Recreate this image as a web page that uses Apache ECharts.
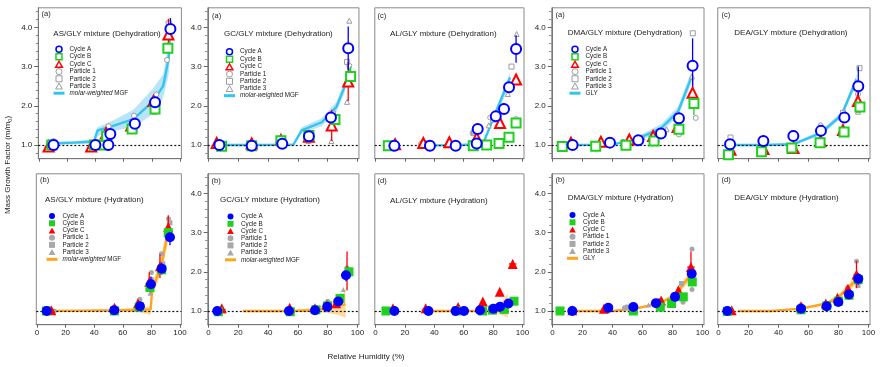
<!DOCTYPE html>
<html><head><meta charset="utf-8">
<script src="https://cdn.jsdelivr.net/npm/echarts@6/dist/echarts.min.js"></script>
<style>html,body{margin:0;padding:0;background:#fff}#c{width:896px;height:367px}</style>
</head><body><div id="c"></div>
<script>
// ---------------- tick labels / reference ----------------
const RH_TICKS = [0, 20, 40, 60, 80, 100];
const MGF_TICKS = [1, 2, 3, 4];
const MGF_MINOR = [0.8, 1.2, 1.4, 1.6, 1.8, 2.2, 2.4, 2.6, 2.8, 3.2, 3.4, 3.6, 3.8, 4.2, 4.4];
const REF_MGF = 1.0;
const MGF_NAME = 'molar-weighted MGF';
const GLY_NAME = 'GLY';

// ---------------- data: [RH, MGF, yErr, xErr] for cycles, [RH, MGF] for particles ----------------
// (1) AS/GLY dehydration
const AS_DEH_A = [[10.3,1.00,0.03,1.5],[40.0,1.00,0.03,1.5],[49.2,1.00,0.03,1.0],[50.6,1.28,0.12,1.5],[68.0,1.54,0.08,2.0],[82.3,2.09,0.12,1.5],[93.2,3.96,0.28,1.5]];
const AS_DEH_B = [[9.1,1.00,0.03,1.5],[39.3,1.00,0.03,1.0],[46.3,1.00,0.03,1.0],[48.0,1.22,0.10,1.0],[66.0,1.41,0.06,1.5],[82.3,1.92,0.10,1.5],[91.4,3.47,0.15,1.5]];
const AS_DEH_C = [[6.8,0.96,0.05,1.0],[37.0,0.96,0.04,1.0],[47.5,1.30,0.15,1.0],[65.4,1.50,0.08,1.0],[81.2,2.12,0.12,1.0],[91.8,3.82,0.40,1.5]];
const AS_DEH_P1 = [[10.3,1.10],[49.4,1.48],[67.4,1.75],[83.3,2.29],[90.8,3.17]];
const AS_DEH_P2 = [[8.0,1.00],[40.0,0.97],[47.5,1.00],[66.0,1.45],[82.0,1.85],[92.0,4.10]];
const AS_DEH_P3 = [[7.0,1.08],[38.0,0.98],[49.0,1.20],[67.0,1.62],[82.0,2.15],[92.0,3.90]];
const AS_DEH_M_RH = [10,25,39,41.5,51,67,81,88,92,93];
const AS_DEH_M_MEAN = [1.04,1.06,1.09,1.37,1.47,1.66,2.12,2.50,3.20,3.95];
const AS_DEH_M_LO = [1.00,1.02,1.04,1.22,1.35,1.45,1.80,2.20,2.80,3.50];
const AS_DEH_M_HI = [1.08,1.10,1.14,1.45,1.60,1.90,2.45,2.80,3.60,4.20];

// (2) GC/GLY dehydration
const GC_DEH_A = [[7.3,1.00,0.03,1.5],[29.0,0.98,0.02,1.5],[49.5,1.03,0.03,1.5],[67.4,1.22,0.05,1.5],[82.2,1.70,0.10,1.5],[93.8,3.47,0.55,1.5]];
const GC_DEH_B = [[8.8,0.97,0.03,1.0],[29.0,0.98,0.02,1.0],[48.6,1.11,0.03,1.0],[67.4,1.24,0.04,1.0],[84.9,1.65,0.10,1.5],[95.4,2.75,0.25,1.5]];
const GC_DEH_C = [[5.5,1.05,0.06,1.0],[29.0,1.04,0.07,1.0],[48.6,1.13,0.04,1.0],[67.4,1.21,0.05,1.0],[82.7,1.50,0.40,1.5],[93.8,2.62,0.50,1.5]];
const GC_DEH_P1 = [[6.0,1.02],[29.0,1.02],[48.0,1.10],[67.0,1.20],[83.0,1.75],[94.5,3.02]];
const GC_DEH_P2 = [[8.0,0.97],[30.0,1.00],[49.0,1.08],[67.5,1.25],[83.5,1.80],[93.0,3.12]];
const GC_DEH_P3 = [[7.0,1.05],[30.0,1.00],[49.0,1.12],[67.0,1.10],[82.5,1.10],[93.0,2.10],[94.5,4.17]];
const GC_DEH_M_RH = [8,30,57,62.5,76,86,91,95];
const GC_DEH_M_MEAN = [1.00,1.00,1.01,1.37,1.58,1.98,2.45,3.00];
const GC_DEH_M_LO = [0.98,0.98,0.98,1.30,1.48,1.85,2.30,2.85];
const GC_DEH_M_HI = [1.02,1.02,1.04,1.45,1.68,2.10,2.60,3.15];

// (3) AL/GLY dehydration
const AL_DEH_A = [[12.8,0.98,0.02,2.0],[37.0,0.98,0.02,1.5],[54.5,0.98,0.02,1.5],[68.8,1.04,0.03,1.5],[69.5,1.41,0.05,2.0],[81.8,1.73,0.04,1.0],[87.4,1.92,0.04,1.0],[90.8,2.47,0.06,1.0],[95.6,3.45,0.35,0.5]];
const AL_DEH_B = [[8.7,0.98,0.02,1.0],[66.5,0.98,0.02,1.0],[75.6,1.00,0.02,1.0],[84.0,1.04,0.02,1.0],[90.8,1.20,0.02,1.0],[95.6,1.56,0.03,1.0]];
const AL_DEH_C = [[13.3,1.02,0.03,1.0],[32.5,1.05,0.03,1.0],[50.2,1.07,0.03,1.0],[68.8,1.18,0.04,1.0],[84.7,1.56,0.04,1.0],[95.6,2.67,0.05,1.0]];
const AL_DEH_P1 = [[31.0,1.03],[66.0,1.30],[78.0,1.70],[87.0,2.00],[95.5,1.66]];
const AL_DEH_P2 = [[33.0,1.05],[67.0,1.32],[80.0,1.65],[92.5,3.00]];
const AL_DEH_P3 = [[67.0,1.35],[77.0,1.50],[90.0,2.30],[96.0,3.83]];
const AL_DEH_M_RH = [33,50,73,82,91.5];
const AL_DEH_M_MEAN = [0.99,0.99,1.02,1.85,2.72];
const AL_DEH_M_LO = [0.97,0.97,0.99,1.75,2.55];
const AL_DEH_M_HI = [1.01,1.01,1.06,1.95,2.85];

// (4) DMA/GLY dehydration
const DMA_DEH_A = [[13.4,1.00,0.02,1.5],[38.3,1.06,0.02,1.5],[57.2,1.12,0.04,1.5],[72.3,1.29,0.04,1.5],[84.3,1.68,0.10,1.5],[93.4,3.02,0.70,1.5]];
const DMA_DEH_B = [[6.5,0.96,0.02,1.5],[28.8,0.97,0.02,1.5],[49.0,0.99,0.03,1.5],[67.7,1.10,0.04,1.5],[84.3,1.40,0.05,1.5],[94.3,2.06,0.30,1.5]];
const DMA_DEH_C = [[12.3,1.06,0.05,1.0],[32.3,1.08,0.06,1.0],[51.2,1.14,0.05,1.0],[67.1,1.23,0.04,1.0],[83.4,1.46,0.10,1.0],[93.4,2.33,0.35,1.0]];
const DMA_DEH_P1 = [[47.0,1.08],[57.5,1.10],[84.3,1.27],[83.5,1.78],[95.5,1.69]];
const DMA_DEH_P2 = [[57.0,1.12],[71.0,1.30],[93.5,3.85]];
const DMA_DEH_P3 = [[60.0,1.20],[76.0,1.40],[85.0,1.55],[93.0,2.75]];
const DMA_DEH_M_RH = [13,40,57.5,72.7,83.8,92.3];
const DMA_DEH_M_MEAN = [1.00,1.01,1.17,1.44,1.86,2.70];
const DMA_DEH_M_LO = [0.99,0.99,1.11,1.34,1.74,2.55];
const DMA_DEH_M_HI = [1.01,1.03,1.23,1.54,1.98,2.85];

// (5) DEA/GLY dehydration
const DEA_DEH_A = [[7.7,1.02,0.05,1.5],[29.9,1.10,0.04,1.5],[49.9,1.23,0.07,1.5],[68.3,1.36,0.05,1.5],[83.9,1.70,0.07,1.5],[93.2,2.50,0.50,1.5]];
const DEA_DEH_B = [[6.6,0.75,0.03,1.0],[28.7,0.83,0.04,1.0],[48.8,0.92,0.08,1.0],[67.7,1.06,0.07,1.0],[83.7,1.33,0.05,1.0],[94.3,1.97,0.15,1.0]];
const DEA_DEH_C = [[8.0,0.88,0.08,1.5],[30.0,0.90,0.05,1.5],[50.0,0.92,0.10,1.5],[68.0,1.10,0.08,1.5],[83.0,1.38,0.06,1.5],[93.0,2.12,0.30,1.5]];
const DEA_DEH_P1 = [[31.0,1.04],[68.0,1.50],[93.0,2.30]];
const DEA_DEH_P2 = [[8.0,1.19],[30.0,1.10],[50.0,1.30],[83.0,1.82],[94.0,2.96]];
const DEA_DEH_P3 = [[50.0,0.90],[68.0,1.20],[93.0,1.85]];
const DEA_DEH_M_RH = [8,30,50,68,82,92];
const DEA_DEH_M_MEAN = [1.00,1.00,1.02,1.30,1.76,2.67];
const DEA_DEH_M_LO = [0.99,0.99,0.99,1.24,1.68,2.55];
const DEA_DEH_M_HI = [1.01,1.01,1.05,1.36,1.84,2.79];

// (6) AS/GLY hydration
const AS_HYD_A = [[6.8,1.00,0.02,3.0],[54.0,1.02,0.03,2.0],[72.0,1.12,0.05,1.5],[79.7,1.68,0.20,1.5],[87.2,2.08,0.15,2.0],[93.0,2.88,0.20,2.5]];
const AS_HYD_B = [[6.5,1.00,0.02,2.0],[54.2,1.00,0.02,2.0],[71.5,1.10,0.03,1.5],[79.0,1.60,0.10,1.5],[87.2,2.05,0.10,1.5],[91.8,3.00,0.15,3.0]];
const AS_HYD_C = [[10.0,1.02,0.03,2.0],[54.2,1.08,0.03,1.0],[70.6,1.20,0.08,1.0],[78.5,1.74,0.25,1.0],[86.0,2.14,0.30,1.0],[91.8,3.14,0.30,1.0]];
const AS_HYD_P1 = [[12.0,1.00],[56.0,1.05],[72.0,1.30],[80.0,1.98],[87.0,2.46],[92.0,3.35]];
const AS_HYD_P2 = [[8.0,0.99],[55.0,1.03],[73.0,1.15],[80.0,1.80],[88.0,2.20],[93.0,3.25]];
const AS_HYD_P3 = [[9.0,1.00],[54.0,1.00],[71.0,1.10],[79.0,1.45],[86.0,2.00],[92.0,3.10]];
const AS_HYD_M_RH = [7,30,55,72,79.5,80.5,87.5,92];
const AS_HYD_M_MEAN = [1.00,1.01,1.02,1.03,1.04,1.50,2.25,3.10];
const AS_HYD_M_LO = [0.99,0.99,0.99,0.97,0.90,1.35,2.05,2.80];
const AS_HYD_M_HI = [1.01,1.02,1.04,1.08,1.12,1.65,2.50,3.35];

// (7) GC/GLY hydration
const GC_HYD_A = [[5.9,1.00,0.02,2.0],[54.0,1.00,0.02,1.5],[71.5,1.02,0.02,1.5],[79.7,1.11,0.04,1.5],[87.1,1.24,0.05,1.5],[92.3,1.91,0.15,2.0]];
const GC_HYD_B = [[6.6,0.98,0.02,1.5],[54.9,0.98,0.02,1.5],[72.1,1.03,0.02,1.5],[79.9,1.13,0.03,1.5],[88.3,1.32,0.05,1.5],[94.3,2.00,0.10,2.0]];
const GC_HYD_C = [[8.9,1.07,0.04,1.0],[54.5,1.08,0.04,1.0],[71.5,1.07,0.04,1.0],[79.5,1.15,0.04,1.0],[85.7,1.20,0.06,1.0],[93.0,2.02,0.50,1.0]];
const GC_HYD_P1 = [[9.0,1.02],[55.0,1.02],[80.0,1.25],[89.0,1.38],[93.0,2.10]];
const GC_HYD_P2 = [[10.0,1.00],[72.0,1.05],[86.0,1.20]];
const GC_HYD_P3 = [[73.0,1.04],[90.5,1.55]];
const GC_HYD_M_RH = [23,40,55,71,80,87,92];
const GC_HYD_M_MEAN = [1.00,1.00,1.00,1.02,1.08,1.13,1.17];
const GC_HYD_M_LO = [0.99,0.99,0.99,0.98,0.95,0.90,0.83];
const GC_HYD_M_HI = [1.01,1.01,1.02,1.08,1.20,1.35,1.50];

// (8) AL/GLY hydration
const AL_HYD_A = [[12.8,1.00,0.02,2.0],[36.0,1.00,0.02,1.5],[54.5,1.00,0.02,1.5],[60.2,1.00,0.02,1.5],[71.1,1.02,0.02,1.5],[80.2,1.06,0.02,1.5],[84.7,1.11,0.02,1.5],[90.4,1.19,0.02,1.5]];
const AL_HYD_B = [[7.1,1.00,0.02,2.0],[55.2,1.00,0.02,1.5],[72.8,1.00,0.02,1.5],[79.6,1.02,0.02,1.5],[87.6,1.04,0.02,1.5],[94.2,1.25,0.03,2.5]];
const AL_HYD_C = [[11.9,1.07,0.03,1.0],[34.1,1.07,0.03,1.0],[56.2,1.10,0.03,1.0],[73.0,1.24,0.03,1.0],[84.5,1.49,0.03,1.0],[93.3,2.20,0.10,2.5]];
const AL_HYD_P1 = [[33.0,1.02],[56.0,1.03]];
const AL_HYD_P2 = [[34.0,1.00],[12.0,1.00]];
const AL_HYD_P3 = [[12.0,1.02],[35.0,1.01]];
const AL_HYD_M_RH = [36,55,70,80,87,90];
const AL_HYD_M_MEAN = [1.00,1.00,1.00,1.00,1.00,1.00];
const AL_HYD_M_LO = [0.99,0.99,0.99,0.97,0.88,0.83];
const AL_HYD_M_HI = [1.01,1.01,1.01,1.06,1.30,1.44];

// (9) DMA/GLY hydration
const DMA_HYD_A = [[13.2,1.00,0.02,2.0],[37.2,1.08,0.03,2.0],[53.9,1.10,0.03,2.0],[69.0,1.20,0.04,2.0],[81.7,1.36,0.05,2.0],[92.8,1.95,0.15,2.5]];
const DMA_HYD_B = [[5.0,1.00,0.02,2.0],[53.9,1.00,0.02,2.0],[71.9,1.10,0.03,1.5],[79.4,1.19,0.03,1.5],[87.2,1.36,0.05,1.5],[93.2,1.74,0.10,2.0]];
const DMA_HYD_C = [[13.2,1.02,0.03,1.5],[34.3,1.06,0.05,1.5],[53.9,1.08,0.04,1.5],[72.4,1.27,0.05,1.5],[83.9,1.53,0.08,1.5],[92.3,2.12,0.40,2.5]];
const DMA_HYD_P1 = [[48.0,1.08],[67.0,1.20],[80.0,1.35],[87.0,1.22],[93.0,2.58],[93.0,1.55]];
const DMA_HYD_P2 = [[50.0,1.10],[72.0,1.27],[86.0,1.70]];
const DMA_HYD_P3 = [[64.0,1.15],[84.0,1.45],[92.0,1.90]];
const DMA_HYD_M_RH = [13,40,55,71,81.7,91.7];
const DMA_HYD_M_MEAN = [1.00,1.00,1.06,1.19,1.40,1.90];
const DMA_HYD_M_LO = [0.99,0.99,1.04,1.15,1.33,1.78];
const DMA_HYD_M_HI = [1.01,1.01,1.08,1.23,1.47,2.02];

// (10) DEA/GLY hydration
const DEA_HYD_A = [[5.9,1.00,0.02,2.0],[55.0,1.06,0.03,2.0],[72.1,1.12,0.04,1.5],[79.9,1.23,0.04,1.5],[87.0,1.42,0.05,1.5],[93.2,1.82,0.15,2.0]];
const DEA_HYD_B = [[5.9,0.99,0.02,1.5],[55.0,1.03,0.02,1.5],[72.1,1.13,0.03,1.5],[79.9,1.25,0.03,1.5],[87.0,1.40,0.04,1.5],[93.2,1.80,0.10,1.5]];
const DEA_HYD_C = [[8.8,1.02,0.03,1.5],[55.0,1.12,0.04,1.5],[71.5,1.19,0.04,1.5],[79.3,1.34,0.04,1.5],[86.3,1.57,0.05,1.5],[92.0,1.93,0.35,2.0]];
const DEA_HYD_P1 = [[55.0,1.15],[72.0,1.20],[80.0,1.30],[86.0,1.60],[92.0,2.27]];
const DEA_HYD_P2 = [[54.0,1.10],[80.0,1.28],[93.0,1.65]];
const DEA_HYD_P3 = [[70.0,1.18],[88.0,1.50]];
const DEA_HYD_M_RH = [13,35,55,72,80,87,92];
const DEA_HYD_M_MEAN = [1.00,1.00,1.06,1.19,1.36,1.60,1.82];
const DEA_HYD_M_LO = [0.99,0.99,1.04,1.15,1.30,1.50,1.68];
const DEA_HYD_M_HI = [1.01,1.01,1.08,1.23,1.42,1.70,1.96];

// ---------------- panel definitions ----------------
const PANELS = [
  {title:'AS/GLY mixture (Dehydration)', tag:'(a)', A:AS_DEH_A, B:AS_DEH_B, C:AS_DEH_C, P:[AS_DEH_P1,AS_DEH_P2,AS_DEH_P3], M:[AS_DEH_M_RH,AS_DEH_M_MEAN,AS_DEH_M_LO,AS_DEH_M_HI], model:MGF_NAME},
  {title:'GC/GLY mixture (Dehydration)', tag:'(a)', A:GC_DEH_A, B:GC_DEH_B, C:GC_DEH_C, P:[GC_DEH_P1,GC_DEH_P2,GC_DEH_P3], M:[GC_DEH_M_RH,GC_DEH_M_MEAN,GC_DEH_M_LO,GC_DEH_M_HI], model:MGF_NAME},
  {title:'AL/GLY mixture (Dehydration)', tag:'(c)', A:AL_DEH_A, B:AL_DEH_B, C:AL_DEH_C, P:[AL_DEH_P1,AL_DEH_P2,AL_DEH_P3], M:[AL_DEH_M_RH,AL_DEH_M_MEAN,AL_DEH_M_LO,AL_DEH_M_HI], model:MGF_NAME},
  {title:'DMA/GLY mixture (Dehydration)', tag:'(a)', A:DMA_DEH_A, B:DMA_DEH_B, C:DMA_DEH_C, P:[DMA_DEH_P1,DMA_DEH_P2,DMA_DEH_P3], M:[DMA_DEH_M_RH,DMA_DEH_M_MEAN,DMA_DEH_M_LO,DMA_DEH_M_HI], model:GLY_NAME},
  {title:'DEA/GLY mixture (Dehydration)', tag:'(c)', A:DEA_DEH_A, B:DEA_DEH_B, C:DEA_DEH_C, P:[DEA_DEH_P1,DEA_DEH_P2,DEA_DEH_P3], M:[DEA_DEH_M_RH,DEA_DEH_M_MEAN,DEA_DEH_M_LO,DEA_DEH_M_HI], model:GLY_NAME},
  {title:'AS/GLY mixture (Hydration)', tag:'(b)', A:AS_HYD_A, B:AS_HYD_B, C:AS_HYD_C, P:[AS_HYD_P1,AS_HYD_P2,AS_HYD_P3], M:[AS_HYD_M_RH,AS_HYD_M_MEAN,AS_HYD_M_LO,AS_HYD_M_HI], model:MGF_NAME},
  {title:'GC/GLY mixture (Hydration)', tag:'(b)', A:GC_HYD_A, B:GC_HYD_B, C:GC_HYD_C, P:[GC_HYD_P1,GC_HYD_P2,GC_HYD_P3], M:[GC_HYD_M_RH,GC_HYD_M_MEAN,GC_HYD_M_LO,GC_HYD_M_HI], model:MGF_NAME},
  {title:'AL/GLY mixture (Hydration)', tag:'(d)', A:AL_HYD_A, B:AL_HYD_B, C:AL_HYD_C, P:[AL_HYD_P1,AL_HYD_P2,AL_HYD_P3], M:[AL_HYD_M_RH,AL_HYD_M_MEAN,AL_HYD_M_LO,AL_HYD_M_HI], model:MGF_NAME},
  {title:'DMA/GLY mixture (Hydration)', tag:'(b)', A:DMA_HYD_A, B:DMA_HYD_B, C:DMA_HYD_C, P:[DMA_HYD_P1,DMA_HYD_P2,DMA_HYD_P3], M:[DMA_HYD_M_RH,DMA_HYD_M_MEAN,DMA_HYD_M_LO,DMA_HYD_M_HI], model:GLY_NAME},
  {title:'DEA/GLY mixture (Hydration)', tag:'(d)', A:DEA_HYD_A, B:DEA_HYD_B, C:DEA_HYD_C, P:[DEA_HYD_P1,DEA_HYD_P2,DEA_HYD_P3], M:[DEA_HYD_M_RH,DEA_HYD_M_MEAN,DEA_HYD_M_LO,DEA_HYD_M_HI], model:GLY_NAME}
];

// ---------------- layout (pixels) ----------------
const FONT = 'Liberation Sans, Arial, Helvetica, sans-serif';
const GRID_LEFT = [38.3, 207.75, 374.8, 551.75, 717.75, 36.3, 207.75, 374.8, 551.75, 717.75];
const GRID_WIDTH = [143.1, 151.2, 149.2, 152.25, 152.25, 145.1, 151.2, 149.2, 152.25, 152.25];
const ROW_TOP = [7.8, 173.8];
const GRID_HEIGHT = 150.9;
const Y_LABELS = [true, true, false, true, false, false, true, false, true, false];
const TAG_POS = [[41.5,9.5],[212,12],[377.5,11.5],[555.5,10.5],[721.5,10.5],[40,175.5],[211.5,176.5],[377.5,177],[555.5,175.5],[721.5,175.5]];
const TITLE_POS = [[53.3,29.5],[224,29.5],[390,29.5],[567.7,28.8],[734.3,28.8],[45,195.5],[220,195.5],[390,196.5],[567.7,194],[734.3,194]];
const LEGEND_POS = {0:[53.5,45.5], 1:[224,48], 3:[569.5,45.5], 5:[46.5,212.5], 6:[225,213], 8:[567,211.5]};

const BLUE = '#0000ff', GREEN = '#1fd01f', RED = '#ff0000', GRAY = '#9c9c9c', GRAY_FILL = '#a8a8a8';
const LINE_TOP = '#35c3f2', BAND_TOP = '#a9def6';
const LINE_BOT = '#ffa41c', BAND_BOT = '#ffcf7a';
const ICON_SQUARE = 'path://M0,0H10V10H0Z';
const ICON_TRI = 'path://M5,0L10,9H0Z';

function errRender(color) {
  return function (params, api) {
    const x = api.value(0), y = api.value(1), ye = api.value(2), xe = api.value(3);
    const p0 = api.coord([x, y - ye]), p1 = api.coord([x, y + ye]);
    const q0 = api.coord([x - xe, y]), q1 = api.coord([x + xe, y]);
    return {type: 'group', children: [
      {type: 'line', shape: {x1: p0[0], y1: p0[1], x2: p1[0], y2: p1[1]}, style: {stroke: color, lineWidth: 1.3}},
      {type: 'line', shape: {x1: q0[0], y1: q0[1], x2: q1[0], y2: q1[1]}, style: {stroke: color, lineWidth: 1.3}}
    ]};
  };
}
function bandRender(rh, lo, hi, fill, op) {
  return function (params, api) {
    if (params.dataIndex !== 0) return null;
    const pts = [];
    for (let k = 0; k < rh.length; k++) pts.push(api.coord([rh[k], hi[k]]));
    for (let k = rh.length - 1; k >= 0; k--) pts.push(api.coord([rh[k], lo[k]]));
    return {type: 'polygon', shape: {points: pts}, style: {fill: fill, opacity: op}};
  };
}

const grids = [], xAxes = [], yAxes = [], series = [], titles = [], legends = [];
PANELS.forEach((p, i) => {
  const bottom = i >= 5;
  const filled = bottom;
  grids.push({left: GRID_LEFT[i], top: ROW_TOP[bottom ? 1 : 0], width: GRID_WIDTH[i], height: GRID_HEIGHT,
    show: true, borderColor: '#8a8a8a', borderWidth: 1, backgroundColor: 'transparent'});
  xAxes.push({type: 'value', gridIndex: i, min: -0.5, max: 101,
    axisLine: {show: true, onZero: false, lineStyle: {color: '#777', width: 1}},
    axisTick: {show: true, customValues: RH_TICKS, length: 3, lineStyle: {color: '#666'}},
    axisLabel: {show: bottom, customValues: RH_TICKS, fontSize: 8, margin: 4, color: '#222', fontFamily: FONT},
    splitLine: {show: false}});
  const yl = Y_LABELS[i];
  yAxes.push({type: 'value', gridIndex: i, position: 'left', min: 0.65, max: 4.5,
    axisLine: {show: yl, onZero: false, lineStyle: {color: '#777'}},
    axisTick: {show: yl, customValues: MGF_TICKS, length: 4, lineStyle: {color: '#666'}},
    axisLabel: {show: yl, customValues: MGF_TICKS, formatter: v => v.toFixed(1), fontSize: 8, margin: 6, color: '#222', fontFamily: FONT},
    splitLine: {show: false}});
  yAxes.push({type: 'value', gridIndex: i, position: 'left', min: 0.65, max: 4.5,
    axisLine: {show: false, onZero: false},
    axisTick: {show: yl, customValues: MGF_MINOR, length: 2.5, lineStyle: {color: '#888'}},
    axisLabel: {show: false}, splitLine: {show: false}});
  const yi = 2 * i;
  const [mRh, mMean, mLo, mHi] = p.M;
  const lineColor = bottom ? LINE_BOT : LINE_TOP;
  // band
  series.push({type: 'custom', name: 'band' + i, xAxisIndex: i, yAxisIndex: yi, silent: true, z: 1,
    data: mRh.map((r, k) => [r, mLo[k], mHi[k]]), encode: {x: 0, y: 1},
    renderItem: bandRender(mRh, mLo, mHi, bottom ? BAND_BOT : BAND_TOP, bottom ? 0.75 : 0.8)});
  // model line + reference line
  series.push({type: 'line', name: p.model, xAxisIndex: i, yAxisIndex: yi, silent: true, z: 2,
    data: mRh.map((r, k) => [r, mMean[k]]), showSymbol: false, symbol: 'none',
    lineStyle: {color: lineColor, width: 2.4}, itemStyle: {color: lineColor},
    markLine: {silent: true, symbol: ['none', 'none'], label: {show: false}, animation: false,
      lineStyle: {color: '#111', type: [2, 2], width: 1.2}, data: [{yAxis: REF_MGF}]}});
  // particles
  const pSym = ['circle', 'rect', 'triangle'];
  p.P.forEach((arr, k) => {
    series.push({type: 'scatter', name: 'Particle ' + (k + 1), xAxisIndex: i, yAxisIndex: yi, silent: true, z: 3,
      data: arr, symbol: pSym[k], symbolSize: 5,
      itemStyle: filled ? {color: GRAY_FILL, borderWidth: 0, opacity: 1} : {color: '#fff', borderColor: GRAY, borderWidth: 1, opacity: 1}});
  });
  // cycles: error bars then markers
  const cyc = [['Cycle C', p.C, RED, 'triangle', 10, 5], ['Cycle B', p.B, GREEN, 'rect', 9, 6], ['Cycle A', p.A, BLUE, 'circle', 10, 7]];
  cyc.forEach(([nm, arr, col]) => {
    series.push({type: 'custom', name: 'err ' + nm, xAxisIndex: i, yAxisIndex: yi, silent: true, z: 4,
      data: arr, encode: {x: 0, y: 1}, renderItem: errRender(col)});
  });
  cyc.forEach(([nm, arr, col, sym, size, z]) => {
    series.push({type: 'scatter', name: nm, xAxisIndex: i, yAxisIndex: yi, silent: true, z: z,
      data: arr.map(d => [d[0], d[1]]), symbol: sym, symbolSize: size,
      itemStyle: filled ? {color: col, borderWidth: 0, opacity: 1} : {color: '#fff', borderColor: col, borderWidth: 2, opacity: 1}});
  });
  // titles
  titles.push({text: p.tag, left: TAG_POS[i][0], top: TAG_POS[i][1], padding: 0,
    textStyle: {fontSize: 7.5, fontWeight: 'normal', color: '#222', fontFamily: FONT}});
  titles.push({text: p.title, left: TITLE_POS[i][0], top: TITLE_POS[i][1], padding: 0,
    textStyle: {fontSize: 8, fontWeight: 'normal', color: '#222', fontFamily: FONT}});
  // legend
  if (LEGEND_POS[i]) {
    const fillOf = c => filled ? c : '#fff';
    const bw = filled ? 0 : 1.5;
    legends.push({orient: 'vertical', left: LEGEND_POS[i][0], top: LEGEND_POS[i][1], padding: 0,
      itemWidth: 11, itemHeight: 6, itemGap: 0, selectedMode: false, symbolKeepAspect: true,
      formatter: n => n === MGF_NAME ? '{i|molar-weighted} MGF' : n,
      textStyle: {fontSize: 6.3, lineHeight: 7.2, color: '#222', fontFamily: FONT,
        rich: {i: {fontSize: 6.3, lineHeight: 7.2, fontStyle: 'italic', color: '#222', fontFamily: FONT}}},
      data: [
        {name: 'Cycle A', icon: 'circle', itemStyle: {color: fillOf(BLUE), borderColor: BLUE, borderWidth: bw}},
        {name: 'Cycle B', icon: ICON_SQUARE, itemStyle: {color: fillOf(GREEN), borderColor: GREEN, borderWidth: bw}},
        {name: 'Cycle C', icon: ICON_TRI, itemStyle: {color: fillOf(RED), borderColor: RED, borderWidth: bw}},
        {name: 'Particle 1', icon: 'circle', itemStyle: {color: filled ? GRAY_FILL : '#fff', borderColor: GRAY, borderWidth: filled ? 0 : 1}},
        {name: 'Particle 2', icon: ICON_SQUARE, itemStyle: {color: filled ? GRAY_FILL : '#fff', borderColor: GRAY, borderWidth: filled ? 0 : 1}},
        {name: 'Particle 3', icon: ICON_TRI, itemStyle: {color: filled ? GRAY_FILL : '#fff', borderColor: GRAY, borderWidth: filled ? 0 : 1}},
        {name: p.model, icon: 'path://M0,0H11V3H0Z', itemStyle: {color: lineColor, borderWidth: 0}}
      ]});
  }
});

const chart = echarts.init(document.getElementById('c'), null, {renderer: 'canvas'});
chart.setOption({
  animation: false,
  backgroundColor: '#fff',
  textStyle: {fontFamily: FONT},
  grid: grids, xAxis: xAxes, yAxis: yAxes, series: series, title: titles, legend: legends,
  graphic: [
    {type: 'text', x: 366, y: 357, silent: true,
      style: {text: 'Relative Humidity (%)', fontSize: 8, fontFamily: FONT, fill: '#222', textAlign: 'center', textVerticalAlign: 'middle'}},
    {type: 'text', x: 8, y: 165, rotation: Math.PI / 2, silent: true,
      style: {text: '{b|Mass Growth Factor (m/m}{s|0}{b|)}', fontFamily: FONT, fill: '#222', textAlign: 'center', textVerticalAlign: 'middle',
        rich: {b: {fontSize: 8, lineHeight: 11, fontFamily: FONT, fill: '#222'}, s: {fontSize: 5.5, lineHeight: 6, verticalAlign: 'bottom', fontFamily: FONT, fill: '#222'}}}}
  ]
});
</script></body></html>
